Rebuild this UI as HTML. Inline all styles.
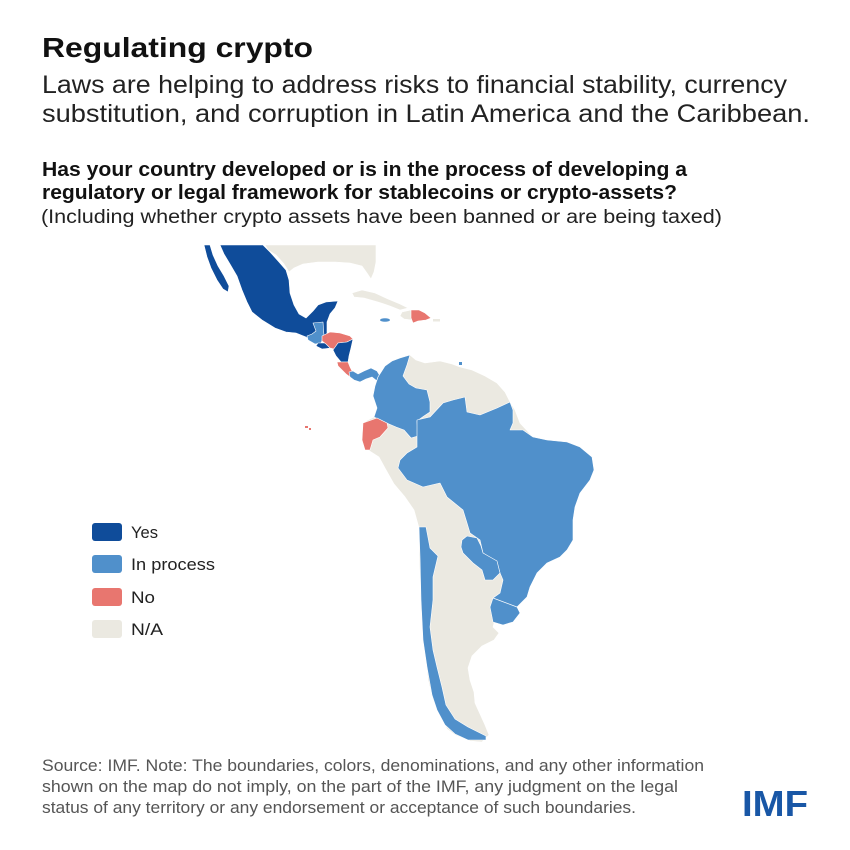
<!DOCTYPE html>
<html>
<head>
<meta charset="utf-8">
<style>
  html, body { margin:0; padding:0; background:#fff; }
  svg { display:block; }
  text { font-family: "Liberation Sans", "DejaVu Sans", sans-serif; }
</style>
</head>
<body>
<svg width="850" height="850" viewBox="0 0 850 850" xmlns="http://www.w3.org/2000/svg">
  <rect x="0" y="0" width="850" height="850" fill="#ffffff"/>

  <!-- Title & subtitle -->
  <text x="42" y="57" font-size="28" font-weight="bold" fill="#111" textLength="271" lengthAdjust="spacingAndGlyphs">Regulating crypto</text>
  <text x="42" y="93" font-size="25" fill="#222" textLength="745" lengthAdjust="spacingAndGlyphs">Laws are helping to address risks to financial stability, currency</text>
  <text x="42" y="122" font-size="25" fill="#222" textLength="768" lengthAdjust="spacingAndGlyphs">substitution, and corruption in Latin America and the Caribbean.</text>

  <text x="42" y="176" font-size="20" font-weight="bold" fill="#111" textLength="645" lengthAdjust="spacingAndGlyphs">Has your country developed or is in the process of developing a</text>
  <text x="42" y="199" font-size="20" font-weight="bold" fill="#111" textLength="635" lengthAdjust="spacingAndGlyphs">regulatory or legal framework for stablecoins or crypto-assets?</text>
  <text x="41" y="223" font-size="19" fill="#222" textLength="681" lengthAdjust="spacingAndGlyphs">(Including whether crypto assets have been banned or are being taxed)</text>

  <!-- Map -->
  <g stroke="#ffffff" stroke-width="0.6" stroke-linejoin="round">
    <!-- USA (N/A) -->
    <polygon fill="#ebe9e1" points="265,245 376,245 376,262 374,272 371,279 367,273 362,266 350,263 335,262 318,262 303,264 294,268 289,272 284,264 276,255 268,250"/>
    <!-- Cuba -->
    <polygon fill="#ebe9e1" points="352,293 362,290 375,293 388,299 400,304 408,308 400,310 390,306 378,302 364,298 354,297"/>
    <!-- Haiti -->
    <polygon fill="#ebe9e1" points="402,312 411,310 412,320 404,319 400,316"/>
    <!-- Dominican Republic -->
    <polygon fill="#e8766f" points="411,310 419,310 425,313 431,318 426,320 418,321 413,323 411,318"/>
    <!-- Puerto Rico -->
    <rect x="433" y="319" width="7" height="2.5" fill="#ebe9e1" stroke="none"/>
    <!-- Jamaica -->
    <ellipse cx="385" cy="320" rx="5" ry="1.8" fill="#5090cb" stroke="none"/>

    <!-- Mexico (Yes) -->
    <polygon fill="#0f4c9a" points="220,245 263,245 270,252 279,262 286,270 289,280 290,293 294,305 299,314 306,318 313,311 318,305 326,302 338,301 335,308 330,314 327,322 327,334 320,341 313,343 306,337 296,333 286,332 275,328 262,320 252,312 247,302 242,290 237,276 230,264 224,254"/>
    <polygon fill="#0f4c9a" points="204,245 210,245 213,255 218,266 224,276 229,286 228,292 223,289 217,280 211,268 207,257"/>
    <!-- Guatemala (In process) -->
    <polygon fill="#5090cb" points="313,323 323,322 324,336 321,343 315,344 308,340 307,336 312,334 316,331"/>
    <!-- El Salvador (Yes) -->
    <polygon fill="#0f4c9a" points="318,343 327,343 331,348 322,349 316,346"/>
    <!-- Honduras (No) -->
    <polygon fill="#e8766f" points="322,336 330,332 340,333 350,336 353,339 347,342 338,343 334,349 330,348 326,344 322,341"/>
    <!-- Nicaragua (Yes) -->
    <polygon fill="#0f4c9a" points="338,343 347,342 353,339 351,348 349,356 348,362 341,362 336,356 333,350"/>
    <!-- Costa Rica (No) -->
    <polygon fill="#e8766f" points="337,362 348,362 350,367 353,373 350,377 346,374 342,370 338,366"/>
    <!-- Panama (In process) -->
    <polygon fill="#5090cb" points="349,372 353,371 358,374 364,371 371,368 377,371 380,376 377,381 372,377 366,379 360,382 354,380 350,377"/>

    <!-- South America base (N/A) -->
    <polygon fill="#ebe9e1" points="378,377 385,366 392,361 400,358 410,355 416,360 425,363 440,361 452,364 460,367 472,370 485,376 497,383 505,392 510,402 515,410 520,423 533,437 540,480 520,560 500,600 493,627 499,633 494,640 482,646 472,656 468,668 470,680 474,692 475,703 480,714 485,725 489,735 482,742 470,741 455,735 447,729 440,715 433,700 428,680 426,660 423,635 421,610 420,580 419,555 419,528 414,510 405,497 394,484 385,468 379,457 368,450 362,443 362,433 366,421 374,417 377,408 373,396 375,386"/>
    <!-- Colombia -->
    <polygon fill="#5090cb" points="378,377 385,366 392,361 400,358 410,355 407,365 403,376 409,384 416,388 427,390 430,402 430,412 424,416 417,421 418,436 411,438 404,430 396,427 389,424 378,419 374,417 377,408 373,396 375,386"/>
    <!-- Brazil + Uruguay -->
    <polygon fill="#5090cb" points="417,420 430,417 443,403 453,400 465,397 467,412 480,415 497,408 510,402 513,410 513,423 510,430 523,430 533,437 547,440 567,442 580,447 592,457 594,470 590,480 580,493 575,507 573,520 573,540 567,550 560,557 547,563 537,573 530,587 527,597 517,607 520,613 513,622 503,625 493,622 490,607 493,598 500,593 503,580 500,573 497,562 483,553 480,540 470,533 467,523 463,510 447,497 440,483 423,487 407,480 398,468 400,460 407,453 417,447 417,437"/>
    <line x1="493" y1="598" x2="517" y2="607" stroke="#ffffff" stroke-width="0.7"/>
    <!-- Paraguay -->
    <polygon fill="#5090cb" points="462,540 467,536 477,538 481,546 483,553 497,561 500,573 493,580 485,580 482,570 473,563 463,553 461,547"/>
    <!-- Chile -->
    <polygon fill="#5090cb" points="419,527 426,527 430,548 438,556 433,577 433,600 430,627 433,650 437,667 442,687 446,705 455,719 468,727 486,736 486,740 468,740 455,734 445,725 437,710 432,695 427,667 423,640 421,600 420,557"/>
    <!-- Ecuador (No) -->
    <polygon fill="#e8766f" points="363,423 377,418 387,423 388,428 380,437 373,440 370,450 365,450 362,440"/>
    <!-- Galapagos -->
    <rect x="305" y="426" width="3" height="2" fill="#e8766f" stroke="none"/>
    <rect x="309" y="428" width="2" height="2" fill="#e8766f" stroke="none"/>
    <!-- Trinidad -->
    <rect x="459" y="362" width="3" height="3" fill="#5090cb" stroke="none"/>
  </g>

  <!-- Legend -->
  <rect x="92" y="523" width="30" height="18" rx="3" fill="#0f4c9a"/>
  <rect x="92" y="555" width="30" height="18" rx="3" fill="#5090cb"/>
  <rect x="92" y="588" width="30" height="18" rx="3" fill="#e8766f"/>
  <rect x="92" y="620" width="30" height="18" rx="3" fill="#ebe9e1"/>
  <text x="131" y="538" font-size="17" fill="#222" textLength="27" lengthAdjust="spacingAndGlyphs">Yes</text>
  <text x="131" y="570" font-size="17" fill="#222" textLength="84" lengthAdjust="spacingAndGlyphs">In process</text>
  <text x="131" y="603" font-size="17" fill="#222" textLength="24" lengthAdjust="spacingAndGlyphs">No</text>
  <text x="131" y="635" font-size="17" fill="#222" textLength="32" lengthAdjust="spacingAndGlyphs">N/A</text>

  <!-- Footnote -->
  <text x="42" y="771" font-size="17" fill="#555" textLength="662" lengthAdjust="spacingAndGlyphs">Source: IMF. Note: The boundaries, colors, denominations, and any other information</text>
  <text x="42" y="792" font-size="17" fill="#555" textLength="636" lengthAdjust="spacingAndGlyphs">shown on the map do not imply, on the part of the IMF, any judgment on the legal</text>
  <text x="42" y="813" font-size="17" fill="#555" textLength="594" lengthAdjust="spacingAndGlyphs">status of any territory or any endorsement or acceptance of such boundaries.</text>

  <!-- IMF logo -->
  <text x="742" y="816" font-size="36" font-weight="bold" fill="#1957a6" textLength="66" lengthAdjust="spacingAndGlyphs">IMF</text>
</svg>
</body>
</html>
